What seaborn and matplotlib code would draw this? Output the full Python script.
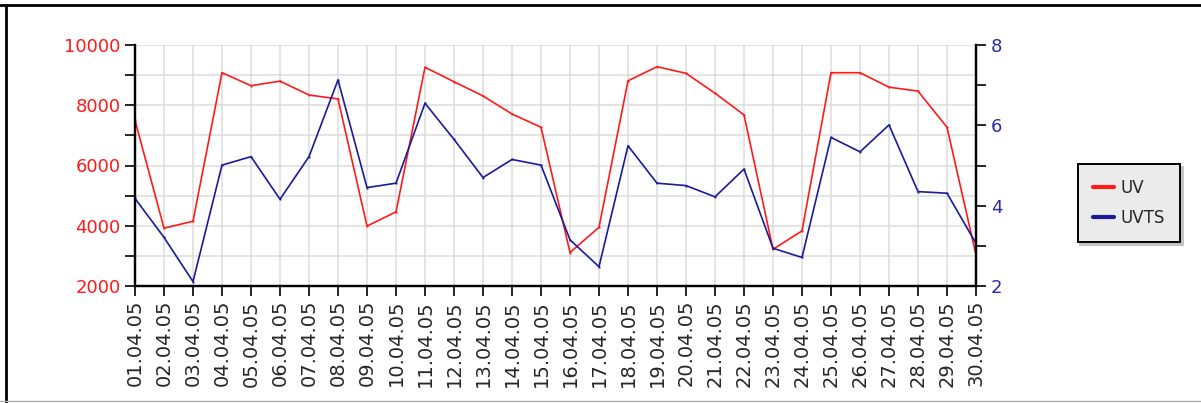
import numpy as np
import pandas as pd
import matplotlib
matplotlib.use('Agg')
import matplotlib.pyplot as plt
from matplotlib.lines import Line2D
from matplotlib.ticker import MultipleLocator
import seaborn as sns

# daily values, April 2005
dates = [f'{d:02d}.04.05' for d in range(1, 31)]

uv = [7500, 3920, 4150, 9080, 8650, 8800, 8340, 8210, 3990, 4460,
      9260, 8780, 8310, 7710, 7270, 3110, 3950, 8810, 9280, 9060,
      8400, 7680, 3220, 3830, 9080, 9080, 8600, 8470, 7270, 3030]

uvts = [4.18, 3.21, 2.11, 5.01, 5.22, 4.16, 5.22, 7.13, 4.45, 4.56,
        6.55, 5.65, 4.70, 5.15, 5.01, 3.15, 2.48, 5.49, 4.56, 4.50,
        4.22, 4.91, 2.94, 2.71, 5.70, 5.34, 6.01, 4.35, 4.31, 3.06]

RED = '#ff1a1a'
BLUE = '#1a1a9a'

df = pd.DataFrame({'date': dates, 'UV': uv, 'UVTS': uvts})

sns.set_style('white')
plt.rcParams['font.family'] = ['DejaVu Sans']

fig = plt.figure(figsize=(12.01, 4.03), dpi=100)
W, H = 1201, 403
ax = fig.add_axes([135 / W, (H - 286) / H, (976 - 135) / W, (286 - 45) / H])
ax2 = ax.twinx()

sns.lineplot(data=df, x='date', y='UV', ax=ax, color=RED, linewidth=1.2,
             marker='s', markersize=1.4, markeredgewidth=0, sort=False, legend=False)
sns.lineplot(data=df, x='date', y='UVTS', ax=ax2, color=BLUE, linewidth=1.2,
             marker='s', markersize=1.4, markeredgewidth=0, sort=False, legend=False)

ax.set_xlim(0, len(dates) - 1)
ax.set_ylim(2000, 10000)
ax2.set_ylim(2, 8)

ax.yaxis.set_major_locator(MultipleLocator(2000))
ax.yaxis.set_minor_locator(MultipleLocator(1000))
ax2.yaxis.set_major_locator(MultipleLocator(2))
ax2.yaxis.set_minor_locator(MultipleLocator(1))

ax.grid(True, which='both', color='#dcdcdc', linewidth=1.1)
ax.set_axisbelow(True)

ax.set_xlabel('')
ax.set_ylabel('')
ax2.set_ylabel('')

ax.tick_params(axis='x', rotation=90, labelsize=14, length=7, width=1.2,
               direction='out', color='black', pad=3)
ax.tick_params(axis='y', which='both', labelsize=13, labelcolor=RED, length=7,
               width=1.2, direction='out', color='black', left=True)
ax2.tick_params(axis='y', which='both', labelsize=13, labelcolor='#2a2aaa',
                length=7, width=1.2, direction='out', color='black', right=True)
ax.tick_params(axis='x', bottom=True)

for a in (ax, ax2):
    a.spines['top'].set_visible(False)
    for s in ('left', 'right', 'bottom'):
        a.spines[s].set_color('black')
        a.spines[s].set_linewidth(1.6)

# legend to the right of the plot
handles = [Line2D([], [], color=RED, linewidth=3, label='UV'),
           Line2D([], [], color=BLUE, linewidth=3, label='UVTS')]
leg = fig.legend(handles=handles, loc='center', bbox_to_anchor=(1129 / W, 1 - 203 / H),
                 frameon=True, fancybox=False, fontsize=12, handlelength=1.3,
                 handletextpad=0.4, borderpad=0.9, labelspacing=0.7,
                 shadow={'color': '#c4c4c4', 'alpha': 1})
leg.get_frame().set_facecolor('#ebebeb')
leg.get_frame().set_edgecolor('black')
leg.get_frame().set_linewidth(1.4)
leg.get_frame().set_alpha(1)

# outer frame of the image
fig.add_artist(Line2D([0, 1], [1 - 4.5 / H, 1 - 4.5 / H], transform=fig.transFigure,
                      color='black', linewidth=2))
fig.add_artist(Line2D([5.5 / W, 5.5 / W], [0, 1 - 4.5 / H], transform=fig.transFigure,
                      color='black', linewidth=2))
fig.add_artist(Line2D([0, 1], [2.5 / H, 2.5 / H], transform=fig.transFigure,
                      color='#b0b0b0', linewidth=1))

fig.savefig('out.png', dpi=100)
plt.close()
